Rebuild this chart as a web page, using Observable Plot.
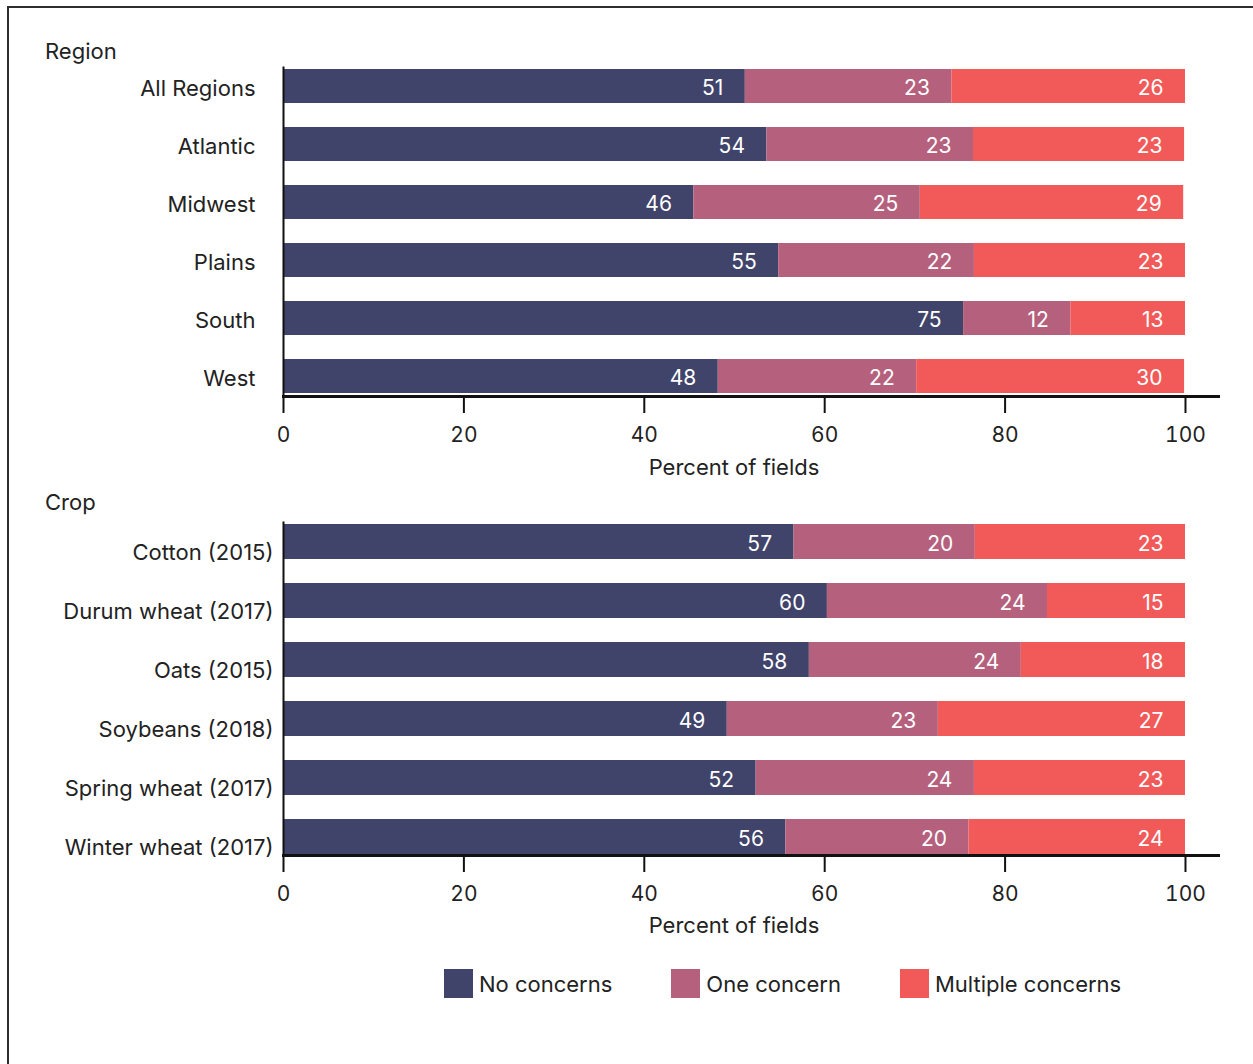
<!DOCTYPE html>
<html>
<head>
<meta charset="utf-8">
<script src="https://cdn.jsdelivr.net/npm/d3@7"></script>
<script src="https://cdn.jsdelivr.net/npm/@observablehq/plot@0.6"></script>
<style>
  body { margin: 0; background: #fff; font-family: Inter, "Noto Sans", sans-serif; color: #222; }
  #page { position: relative; width: 1253px; height: 1064px; overflow: hidden; background: #fff; }
  #frame { position: absolute; left: 7px; top: 6px; width: 1300px; height: 1100px; border: 2.5px solid #2e2e2e; box-sizing: border-box; }
  .panel { position: absolute; left: 0; }
  .ptitle { position: absolute; left: 45px; font-size: 22px; line-height: 1; }
  .xlabel { position: absolute; left: 283px; width: 902px; text-align: center; font-size: 22px; line-height: 1; }
  #legend { position: absolute; top: 969px; left: 444px; display: flex; align-items: center; font-size: 22px; }
  .item { display: flex; align-items: center; }
  .sw { width: 29px; height: 29px; margin-right: 6px; }
</style>
</head>
<body>
<div id="page">
  <div id="frame"></div>
  <div class="ptitle" style="top:40px">Region</div>
  <div id="p1" class="panel" style="top:0px"></div>
  <div class="xlabel" style="top:456px">Percent of fields</div>
  <div class="ptitle" style="top:491px">Crop</div>
  <div id="p2" class="panel" style="top:480px"></div>
  <div class="xlabel" style="top:914px">Percent of fields</div>
  <div id="legend"></div>
</div>
<script>
const series = ["No concerns", "One concern", "Multiple concerns"];
const colors = ["#40436a", "#b5617e", "#f15a59"];
const xTicks = [0, 20, 40, 60, 80, 100];

const regions = ["All Regions", "Atlantic", "Midwest", "Plains", "South", "West"];
const regionNo = [51.2, 53.6, 45.5, 54.9, 75.4, 48.2];
const regionOne = [22.9, 22.9, 25.1, 21.7, 11.9, 22.0];
const regionMulti = [25.9, 23.4, 29.2, 23.4, 12.7, 29.7];

const crops = ["Cotton (2015)", "Durum wheat (2017)", "Oats (2015)", "Soybeans (2018)", "Spring wheat (2017)", "Winter wheat (2017)"];
const cropNo = [56.6, 60.3, 58.3, 49.2, 52.4, 55.7];
const cropOne = [20.1, 24.4, 23.5, 23.4, 24.2, 20.3];
const cropMulti = [23.3, 15.3, 18.2, 27.4, 23.4, 24.0];

function rowsOf(cats, a, b, c) {
  return cats.flatMap((cat, i) => [
    {cat, series: series[0], value: a[i]},
    {cat, series: series[1], value: b[i]},
    {cat, series: series[2], value: c[i]}
  ]);
}

function panel(cats, rows, o) {
  return Plot.plot({
    width: 1253,
    height: o.height,
    marginLeft: 283,
    marginRight: 35,
    marginTop: o.marginTop,
    marginBottom: o.marginBottom,
    style: {fontFamily: "Inter, 'Noto Sans', sans-serif", color: "#222", background: "transparent", overflow: "visible"},
    x: {domain: [0, 103.66]},
    y: {domain: cats, paddingInner: 0.41, paddingOuter: 0.02},
    color: {domain: series, range: colors},
    marks: [
      Plot.barX(rows, Plot.stackX({x: "value", y: "cat", fill: "series", order: null})),
      Plot.text(rows, Plot.stackX2({x: "value", y: "cat", z: "series", order: null,
        text: d => String(Math.round(d.value)),
        textAnchor: "end", dx: -22, dy: 2, fill: "white", fontSize: 21})),
      Plot.frame({anchor: "left", strokeWidth: 2, stroke: "#111"}),
      Plot.axisX({ticks: xTicks, tickSize: 17, tickPadding: 14, strokeWidth: 2, stroke: "#111", label: null, fontSize: 21, fill: "#222"}),
      Plot.frame({anchor: "bottom", strokeWidth: 3, stroke: "#111"}),
      Plot.axisY({tickSize: 0, tickPadding: o.yPad, dy: o.yDy, label: null, fontSize: 22, fill: "#222"})
    ]
  });
}

document.getElementById("p1").append(panel(regions, rowsOf(regions, regionNo, regionOne, regionMulti),
  {height: 450, marginTop: 67, marginBottom: 54, yPad: 28, yDy: 2}));
document.getElementById("p2").append(panel(crops, rowsOf(crops, cropNo, cropOne, cropMulti),
  {height: 428, marginTop: 42, marginBottom: 53, yPad: 10, yDy: 11}));

const legend = document.getElementById("legend");
series.forEach((s, i) => {
  const item = document.createElement("div");
  item.className = "item";
  if (i < series.length - 1) item.style.marginRight = "59px";
  const sw = document.createElement("div");
  sw.className = "sw";
  sw.style.background = colors[i];
  const label = document.createElement("span");
  label.textContent = s;
  item.append(sw, label);
  legend.append(item);
});
</script>
</body>
</html>
